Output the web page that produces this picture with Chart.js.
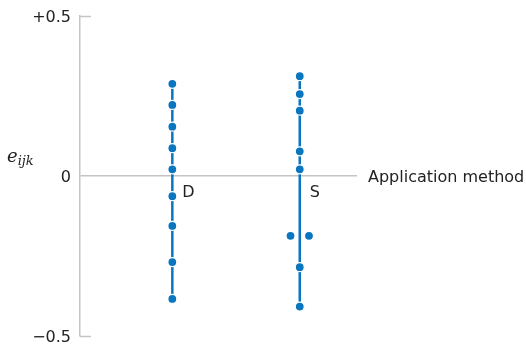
<!DOCTYPE html>
<html>
<head>
<meta charset="utf-8">
<script src="https://cdn.jsdelivr.net/npm/chart.js@4/dist/chart.umd.min.js"></script>
<style>
  html, body { margin: 0; padding: 0; background: #fff; }
  #wrap { position: relative; width: 526px; height: 347px; }
  #yTitle { position: absolute; left: 7px; top: 146px; font: italic 18px "DejaVu Serif", serif; color: #222; line-height: 20px; }
  #yTitle sub { font-size: 13px; vertical-align: -3px; }
</style>
</head>
<body>
<div id="wrap">
  <canvas id="chart" width="526" height="347"></canvas>
  <div id="yTitle">e<sub>ijk</sub></div>
</div>
<script>
// residuals by application method
const methods = ['D', 'S'];
const methodX = [1.0, 2.38];
const residualsD = [0.288, 0.222, 0.154, 0.087, 0.021, -0.063, -0.156, -0.269, -0.384];
const residualsS = [0.312, 0.256, 0.204, 0.077, 0.021, -0.187, -0.187, -0.285, -0.408];
// the two tied S residuals are drawn side by side
const offsetsS = [0, 0, 0, 0, 0, -0.1, 0.1, 0, 0];
const yTicks = [-0.5, 0, 0.5];
const xTitle = 'Application method';

const BLUE = '#0b76c0';
const GRAY = '#c4c4c4';
const TEXT = '#222';
const FONT = '"DejaVu Sans", sans-serif';

function lineData(x, vals) {
  const ys = vals.slice().sort((a, b) => b - a);
  return [{ x: x, y: ys[0] }, { x: x, y: ys[ys.length - 1] }];
}

const pointsD = residualsD.map(v => ({ x: methodX[0], y: v }));
const pointsS = residualsS.map((v, i) => ({ x: methodX[1] + offsetsS[i], y: v }));

const extras = {
  id: 'extras',
  afterDraw(chart) {
    const ctx = chart.ctx;
    const xs = chart.scales.x;
    const ys = chart.scales.y;
    const left = chart.chartArea.left;
    ctx.save();
    ctx.strokeStyle = GRAY;
    ctx.lineWidth = 1.5;
    // short ticks at +0.5 and -0.5
    [0.5, -0.5].forEach(v => {
      const py = Math.round(ys.getPixelForValue(v)) + 0.5;
      ctx.beginPath();
      ctx.moveTo(left, py);
      ctx.lineTo(left + 11, py);
      ctx.stroke();
    });
    ctx.fillStyle = TEXT;
    ctx.font = '16px ' + FONT;
    ctx.textBaseline = 'middle';
    ctx.textAlign = 'left';
    const y0 = ys.getPixelForValue(0);
    // method labels
    methods.forEach((m, i) => {
      ctx.fillText(m, xs.getPixelForValue(methodX[i]) + 10, y0 + 17);
    });
    ctx.fillText(xTitle, chart.chartArea.right + 11, y0 + 2);
    ctx.restore();
  }
};

new Chart(document.getElementById('chart'), {
  type: 'scatter',
  data: {
    datasets: [
      {
        type: 'line', data: lineData(methodX[0], residualsD),
        borderColor: BLUE, borderWidth: 2.5, pointRadius: 0, order: 2
      },
      {
        type: 'line', data: lineData(methodX[1], residualsS),
        borderColor: BLUE, borderWidth: 2.5, pointRadius: 0, order: 2
      },
      {
        label: 'D', data: pointsD, order: 1,
        backgroundColor: BLUE, borderColor: '#fff', borderWidth: 1.2, pointRadius: 4.5
      },
      {
        label: 'S', data: pointsS, order: 1,
        backgroundColor: BLUE, borderColor: '#fff', borderWidth: 1.2, pointRadius: 4.5
      }
    ]
  },
  options: {
    responsive: false,
    animation: false,
    layout: { padding: { top: 16, right: 169, bottom: 11, left: 0 } },
    plugins: { legend: { display: false }, tooltip: { enabled: false } },
    scales: {
      x: {
        type: 'linear', min: 0, max: 3,
        display: false
      },
      y: {
        min: -0.5, max: 0.5,
        afterFit(scale) {
          scale.width = 80;
          scale.paddingTop = 0;
          scale.paddingBottom = 0;
        },
        afterBuildTicks(scale) { scale.ticks = yTicks.map(v => ({ value: v })); },
        border: { display: true, color: GRAY, width: 1.5 },
        grid: {
          drawTicks: false,
          lineWidth: 1.5,
          color: ctx => (ctx.tick && ctx.tick.value === 0 ? GRAY : 'rgba(0,0,0,0)')
        },
        ticks: {
          padding: 9,
          labelOffset: 2,
          color: TEXT,
          font: { size: 16, family: FONT },
          callback: v => (v > 0 ? '+0.5' : v < 0 ? '\u22120.5' : '0')
        }
      }
    }
  },
  plugins: [extras]
});
</script>
</body>
</html>
